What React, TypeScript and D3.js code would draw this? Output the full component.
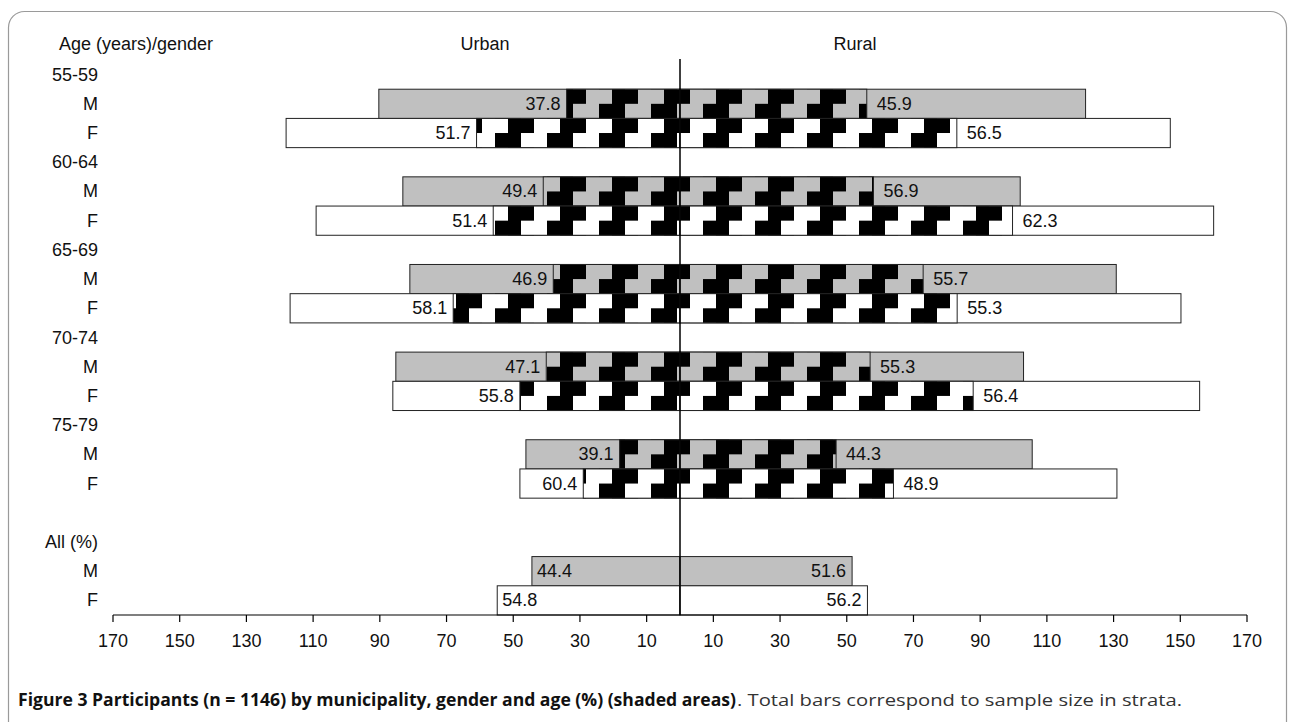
import React from "react";
import * as d3 from "d3";

const W = 1289;
const H = 722;

// Row labels (top to bottom)
const rowLabels = [
  "55-59", "M", "F",
  "60-64", "M", "F",
  "65-69", "M", "F",
  "70-74", "M", "F",
  "75-79", "M", "F",
  "",
  "All (%)", "M", "F",
];

// Age strata, each with M then F (bars interleaved M,F)
const ageGroups = ["55-59", "60-64", "65-69", "70-74", "75-79"];
const genders = ["M", "F"];

// Urban: total bar (sample size), shaded part (participants), label (%)
const urbanTotal = [90.3, 118.1, 83.1, 109.1, 81.0, 116.9, 85.2, 86.1, 46.2, 48.0];
const urbanShaded = [34.0, 61.0, 41.0, 56.0, 38.0, 68.0, 40.1, 48.0, 18.1, 29.0];
const urbanPct = ["37.8", "51.7", "49.4", "51.4", "46.9", "58.1", "47.1", "55.8", "39.1", "60.4"];

// Rural
const ruralTotal = [121.6, 147.0, 102.0, 160.0, 130.8, 150.2, 103.0, 155.8, 105.6, 131.0];
const ruralShaded = [56.0, 83.0, 58.0, 99.7, 72.9, 83.1, 57.0, 87.9, 46.8, 64.0];
const ruralPct = ["45.9", "56.5", "56.9", "62.3", "55.7", "55.3", "55.3", "56.4", "44.3", "48.9"];

// All (%)
const allUrban = [44.4, 54.8];
const allRural = [51.6, 56.2];

// Axis ticks (mirrored)
const tickValues = [-170, -150, -130, -110, -90, -70, -50, -30, -10, 10, 30, 50, 70, 90, 110, 130, 150, 170];

const FONT = "'Liberation Sans', Arial, Helvetica, sans-serif";

export default function App() {
  const x = d3.scaleLinear().domain([-170, 170]).range([113, 1247]);
  const y = d3
    .scaleBand<number>()
    .domain(d3.range(rowLabels.length))
    .range([60, 615])
    .padding(0);
  const bw = y.bandwidth();
  const cx = x(0);
  const h2 = bw / 2;

  const barRow = (i: number) => Math.floor(i / 2) * 3 + 1 + (i % 2);

  // coarse "dark upward diagonal" hatch: 4 cells per period, 2 black, shifted one cell per half-row
  const pattern = (id: string, bg: string) => (
    <pattern id={id} patternUnits="userSpaceOnUse" x={651} y={60} width={52} height={bw}>
      <rect x={0} y={0} width={52} height={bw} fill={bg} />
      <rect x={13} y={0} width={26} height={h2} fill="#000" />
      <rect x={0} y={h2} width={26} height={h2} fill="#000" />
    </pattern>
  );

  const bars = urbanTotal.map((_, i) => {
    const r = barRow(i);
    const isM = i % 2 === 0;
    const bg = isM ? "#c0c0c0" : "#ffffff";
    const pat = isM ? "url(#patM)" : "url(#patF)";
    const top = y(r)!;
    const mid = top + bw / 2;
    return (
      <g key={"b" + i}>
        <rect x={x(-urbanTotal[i])} y={top} width={cx - x(-urbanTotal[i])} height={bw} fill={bg} stroke="#222" strokeWidth={1} />
        <rect x={x(-urbanShaded[i])} y={top} width={cx - x(-urbanShaded[i])} height={bw} fill={pat} stroke="#222" strokeWidth={1} />
        <rect x={cx} y={top} width={x(ruralTotal[i]) - cx} height={bw} fill={bg} stroke="#222" strokeWidth={1} />
        <rect x={cx} y={top} width={x(ruralShaded[i]) - cx} height={bw} fill={pat} stroke="#222" strokeWidth={1} />
        <text x={x(-urbanShaded[i]) - 6} y={mid} textAnchor="end" dominantBaseline="central" fontSize={18} fontFamily={FONT} fill="#111">
          {urbanPct[i]}
        </text>
        <text x={x(ruralShaded[i]) + 10} y={mid} textAnchor="start" dominantBaseline="central" fontSize={18} fontFamily={FONT} fill="#111">
          {ruralPct[i]}
        </text>
      </g>
    );
  });

  const allBars = allUrban.map((u, i) => {
    const r = 17 + i;
    const top = y(r)!;
    const mid = top + bw / 2;
    const bg = i === 0 ? "#c0c0c0" : "#ffffff";
    return (
      <g key={"a" + i}>
        <rect x={x(-u)} y={top} width={cx - x(-u)} height={bw} fill={bg} stroke="#222" strokeWidth={1} />
        <rect x={cx} y={top} width={x(allRural[i]) - cx} height={bw} fill={bg} stroke="#222" strokeWidth={1} />
        <text x={x(-u) + 5} y={mid} textAnchor="start" dominantBaseline="central" fontSize={18} fontFamily={FONT} fill="#111">
          {u.toFixed(1)}
        </text>
        <text x={x(allRural[i]) - 6} y={mid} textAnchor="end" dominantBaseline="central" fontSize={18} fontFamily={FONT} fill="#111">
          {allRural[i].toFixed(1)}
        </text>
      </g>
    );
  });

  const axisY = 615;

  return (
    <svg
      width={W}
      height={H}
      viewBox={`0 0 ${W} ${H}`}
      style={{ position: "absolute", left: 0, top: 0, background: "#fff" }}
    >
      <defs>
        {pattern("patM", "#c0c0c0")}
        {pattern("patF", "#ffffff")}
      </defs>
      <rect x={8.5} y={11.5} width={1278} height={760} rx={16} ry={16} fill="none" stroke="#9a9a9a" strokeWidth={1.2} />

      <text x={59} y={44} dominantBaseline="central" fontSize={18} fontFamily={FONT} fill="#111">
        Age (years)/gender
      </text>
      <text x={485} y={44} textAnchor="middle" dominantBaseline="central" fontSize={18} fontFamily={FONT} fill="#111">
        Urban
      </text>
      <text x={855} y={44} textAnchor="middle" dominantBaseline="central" fontSize={18} fontFamily={FONT} fill="#111">
        Rural
      </text>

      {rowLabels.map((l, i) => (
        <text key={"l" + i} x={98} y={y(i)! + bw / 2} textAnchor="end" dominantBaseline="central" fontSize={18} fontFamily={FONT} fill="#111">
          {l}
        </text>
      ))}

      {bars}
      {allBars}

      <line x1={cx} x2={cx} y1={59} y2={axisY} stroke="#000" strokeWidth={1.5} />

      <line x1={x(-170)} x2={x(170)} y1={axisY} y2={axisY} stroke="#000" strokeWidth={1.2} />
      {tickValues.map((t) => (
        <g key={"t" + t}>
          <line x1={x(t)} x2={x(t)} y1={axisY} y2={axisY + 7} stroke="#000" strokeWidth={1.2} />
          <text x={x(t)} y={641} textAnchor="middle" dominantBaseline="central" fontSize={18} fontFamily={FONT} fill="#111">
            {Math.abs(t)}
          </text>
        </g>
      ))}

      <text x={18} y={706} fontSize={17} fontFamily="'Open Sans', 'Noto Sans', sans-serif" fontWeight={700} fill="#111" textLength={718} lengthAdjust="spacingAndGlyphs">
        Figure 3 Participants (n = 1146) by municipality, gender and age (%) (shaded areas)
      </text>
      <text x={737} y={706} fontSize={17} fontFamily="'Open Sans', 'Noto Sans', sans-serif" fill="#333" textLength={445} lengthAdjust="spacingAndGlyphs">
        . Total bars correspond to sample size in strata.
      </text>
    </svg>
  );
}
